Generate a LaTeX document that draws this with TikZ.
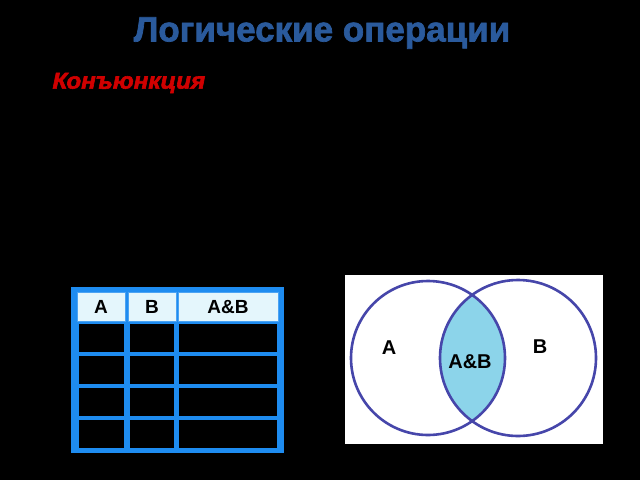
\documentclass[tikz,border=0pt]{standalone}
\usepackage{fontspec}
\setmainfont{Liberation Sans}
\newfontfamily\heavyfont{Liberation Sans Bold}[FakeBold=2]
\newfontfamily\heavyitfont{Liberation Sans Bold Italic}[FakeBold=2.5, FakeStretch=1.05]
\definecolor{titleblue}{HTML}{2A5A9C}
\definecolor{conjred}{HTML}{D00000}
\definecolor{gridblue}{HTML}{1E8CF0}
\definecolor{headfill}{HTML}{E4F6FC}
\definecolor{ringblue}{HTML}{4646AA}
\definecolor{lensfill}{HTML}{8CD4EA}
\tikzset{
  cell/.style={rectangle, inner sep=0pt, minimum height=28pt},
  headcell/.style={cell, fill=headfill, draw=gridblue!80, line width=0.8pt, minimum height=29pt,
    text depth=0pt, text height=13.5pt, font=\fontsize{19}{22}\selectfont\bfseries},
  ring/.style={draw=ringblue, line width=2.6pt},
  setlabel/.style={font=\fontsize{20}{24}\selectfont\bfseries}
}
\begin{document}
\begin{tikzpicture}[x=1pt, y=-1pt]
  \fill[black] (0,0) rectangle (640,480);
  \useasboundingbox (0,0) rectangle (640,480);
  % headings
  \node[text=titleblue, font=\fontsize{35}{40}\heavyfont] (title) at (322,33) {Логические операции};
  \node[text=conjred, anchor=west, font=\fontsize{23}{28}\heavyitfont] (conj) at (49,83) {Конъюнкция};
  % truth table
  \fill[gridblue] (71,287) rectangle (284,453);
  \foreach \c/\x/\w/\bw/\t in {a/101/48/45/A, b/152/48/44/B, ab/228/100/98/A\&B} {
    \node[headcell, minimum width=\w] (\c0) at (\x,306.5) {\t};
    \foreach \r/\y in {1/337.5, 2/369.5, 3/401.5, 4/433.5} {
      \node[cell, fill=black, minimum width=\bw] (\c\r) at (\x,\y) {};
    }
  }
  % Venn diagram
  \fill[white] (345,275) rectangle (603,444);
  \begin{scope}
    \clip (428,358) circle (77);
    \fill[lensfill] (518,358) circle (78);
  \end{scope}
  \draw[ring] (428,358) circle (77);
  \draw[ring] (518,358) circle (78);
  \node[setlabel] (labA) at (389,348) {A};
  \node[setlabel] (labB) at (540,347) {B};
  \node[setlabel] (labAB) at (470,362) {A\&B};
\end{tikzpicture}
\end{document}
